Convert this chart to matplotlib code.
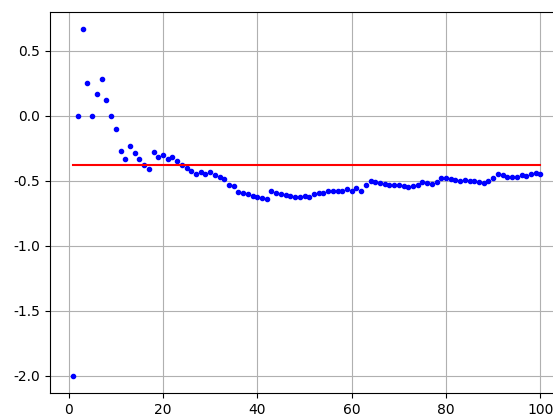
import matplotlib
matplotlib.use("Agg")
import matplotlib.pyplot as plt

steps = list(range(1, 101))
running_mean = [
    -2.0, 0.0, 0.667, 0.25, 0.0, 0.167, 0.286, 0.125, 0.0, -0.1,
    -0.273, -0.333, -0.231, -0.286, -0.333, -0.375, -0.412, -0.278, -0.316, -0.3,
    -0.333, -0.318, -0.348, -0.375, -0.4, -0.423, -0.444, -0.429, -0.448, -0.433,
    -0.452, -0.469, -0.485, -0.529, -0.543, -0.583, -0.595, -0.605, -0.615, -0.625,
    -0.634, -0.643, -0.581, -0.591, -0.6, -0.609, -0.617, -0.625, -0.628, -0.62,
    -0.625, -0.605, -0.59, -0.593, -0.582, -0.575, -0.575, -0.58, -0.565, -0.575,
    -0.556, -0.575, -0.535, -0.5, -0.508, -0.515, -0.522, -0.53, -0.535, -0.535,
    -0.543, -0.55, -0.54, -0.533, -0.507, -0.518, -0.523, -0.51, -0.48, -0.477,
    -0.485, -0.49, -0.5, -0.497, -0.5, -0.5, -0.508, -0.518, -0.5, -0.48,
    -0.446, -0.456, -0.467, -0.467, -0.467, -0.454, -0.46, -0.446, -0.436, -0.45,
]
reference_level = -0.377
line_x = [1, 100]

plt.rcParams['axes.unicode_minus'] = False
fig = plt.figure(figsize=(5.53, 4.16), dpi=100)
ax = fig.add_axes([0.0904, 0.0553, 0.929, 0.916])
ax.plot(steps, running_mean, 'b.')
ax.plot(line_x, [reference_level, reference_level], 'r-')
ax.grid(True)
fig.savefig("out.png", dpi=100)
